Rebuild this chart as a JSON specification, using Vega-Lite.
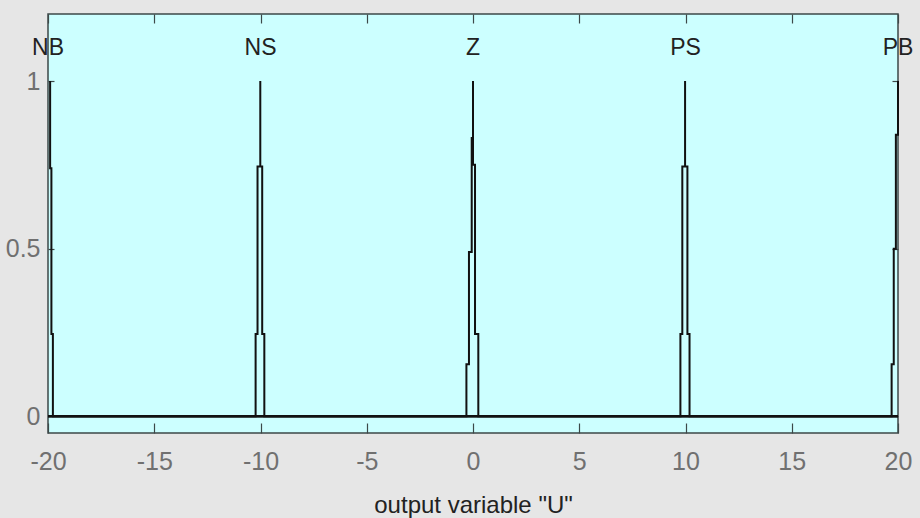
{
  "$schema": "https://vega.github.io/schema/vega-lite/v6.json",
  "width": 850,
  "height": 419,
  "autosize": "none",
  "padding": {"left": 48, "top": 14, "right": 22, "bottom": 85},
  "background": "#e6e6e6",
  "config": {
    "view": {"fill": "#ccffff", "stroke": "#3c4848", "strokeWidth": 1.5},
    "font": "Liberation Sans",
    "axis": {"grid": false, "domain": false, "tickColor": "#3c4848", "tickWidth": 1.2, "labelFont": "Liberation Sans", "labelColor": "#707070", "labelFontSize": 25, "labelFlush": false, "labelOverlap": false, "titleFont": "Liberation Sans", "titleFontWeight": "normal", "titleColor": "#222222", "titleFontSize": 24}
  },
  "datasets": {
    "mfs": [
      {"mf": "NB", "o": 1, "x": -19.9, "y": 1},
      {"mf": "NB", "o": 2, "x": -19.9, "y": 0.74},
      {"mf": "NB", "o": 3, "x": -19.84, "y": 0.74},
      {"mf": "NB", "o": 4, "x": -19.84, "y": 0.245},
      {"mf": "NB", "o": 5, "x": -19.77, "y": 0.245},
      {"mf": "NB", "o": 6, "x": -19.77, "y": 0},
      {"mf": "NB", "o": 7, "x": 20, "y": 0},
      {"mf": "NS", "o": 1, "x": -20, "y": 0},
      {"mf": "NS", "o": 2, "x": -10.23, "y": 0},
      {"mf": "NS", "o": 3, "x": -10.23, "y": 0.245},
      {"mf": "NS", "o": 4, "x": -10.14, "y": 0.245},
      {"mf": "NS", "o": 5, "x": -10.14, "y": 0.745},
      {"mf": "NS", "o": 6, "x": -10.01, "y": 0.745},
      {"mf": "NS", "o": 7, "x": -10.01, "y": 1},
      {"mf": "NS", "o": 8, "x": -10.01, "y": 0.745},
      {"mf": "NS", "o": 9, "x": -9.92, "y": 0.745},
      {"mf": "NS", "o": 10, "x": -9.92, "y": 0.245},
      {"mf": "NS", "o": 11, "x": -9.82, "y": 0.245},
      {"mf": "NS", "o": 12, "x": -9.82, "y": 0},
      {"mf": "NS", "o": 13, "x": 20, "y": 0},
      {"mf": "Z", "o": 1, "x": -20, "y": 0},
      {"mf": "Z", "o": 2, "x": -0.31, "y": 0},
      {"mf": "Z", "o": 3, "x": -0.31, "y": 0.155},
      {"mf": "Z", "o": 4, "x": -0.19, "y": 0.155},
      {"mf": "Z", "o": 5, "x": -0.19, "y": 0.49},
      {"mf": "Z", "o": 6, "x": -0.06, "y": 0.49},
      {"mf": "Z", "o": 7, "x": -0.06, "y": 0.83},
      {"mf": "Z", "o": 8, "x": 0, "y": 0.83},
      {"mf": "Z", "o": 9, "x": 0, "y": 1},
      {"mf": "Z", "o": 10, "x": 0, "y": 0.75},
      {"mf": "Z", "o": 11, "x": 0.095, "y": 0.75},
      {"mf": "Z", "o": 12, "x": 0.095, "y": 0.245},
      {"mf": "Z", "o": 13, "x": 0.25, "y": 0.245},
      {"mf": "Z", "o": 14, "x": 0.25, "y": 0},
      {"mf": "Z", "o": 15, "x": 20, "y": 0},
      {"mf": "PS", "o": 1, "x": -20, "y": 0},
      {"mf": "PS", "o": 2, "x": 9.76, "y": 0},
      {"mf": "PS", "o": 3, "x": 9.76, "y": 0.245},
      {"mf": "PS", "o": 4, "x": 9.85, "y": 0.245},
      {"mf": "PS", "o": 5, "x": 9.85, "y": 0.745},
      {"mf": "PS", "o": 6, "x": 9.98, "y": 0.745},
      {"mf": "PS", "o": 7, "x": 9.98, "y": 1},
      {"mf": "PS", "o": 8, "x": 9.98, "y": 0.745},
      {"mf": "PS", "o": 9, "x": 10.09, "y": 0.745},
      {"mf": "PS", "o": 10, "x": 10.09, "y": 0.245},
      {"mf": "PS", "o": 11, "x": 10.19, "y": 0.245},
      {"mf": "PS", "o": 12, "x": 10.19, "y": 0},
      {"mf": "PS", "o": 13, "x": 20, "y": 0},
      {"mf": "PB", "o": 1, "x": -20, "y": 0},
      {"mf": "PB", "o": 2, "x": 19.7, "y": 0},
      {"mf": "PB", "o": 3, "x": 19.7, "y": 0.155},
      {"mf": "PB", "o": 4, "x": 19.8, "y": 0.155},
      {"mf": "PB", "o": 5, "x": 19.8, "y": 0.5},
      {"mf": "PB", "o": 6, "x": 19.9, "y": 0.5},
      {"mf": "PB", "o": 7, "x": 19.9, "y": 0.84},
      {"mf": "PB", "o": 8, "x": 20, "y": 0.84},
      {"mf": "PB", "o": 9, "x": 20, "y": 1}
    ],
    "labels": [
      {"mf": "NB", "x": -20, "y": 1.1},
      {"mf": "NS", "x": -10, "y": 1.1},
      {"mf": "Z", "x": 0, "y": 1.1},
      {"mf": "PS", "x": 10, "y": 1.1},
      {"mf": "PB", "x": 20, "y": 1.1}
    ]
  },
  "layer": [
    {
      "data": {"name": "mfs"},
      "mark": {"type": "line", "color": "#111111", "strokeWidth": 2, "clip": false},
      "encoding": {
        "x": {"field": "x", "type": "quantitative", "scale": {"domain": [-20, 20], "nice": false, "zero": false},
          "axis": {"orient": "bottom", "values": [-20, -15, -10, -5, 0, 5, 10, 15, 20], "tickSize": -10, "labelPadding": 26, "labelExpr": "'' + datum.value", "title": "output variable \"U\"", "titlePadding": 19}},
        "y": {"field": "y", "type": "quantitative", "scale": {"domain": [-0.05, 1.2], "nice": false, "zero": false},
          "axis": {"orient": "left", "values": [0, 0.5, 1], "tickSize": -6, "labelPadding": 14, "title": null, "labelExpr": "'' + datum.value"}},
        "detail": {"field": "mf"},
        "order": {"field": "o", "type": "quantitative"}
      }
    },
    {
      "data": {"name": "labels"},
      "mark": {"type": "text", "color": "#222222", "fontSize": 23, "baseline": "middle", "align": "center", "font": "Liberation Sans"},
      "encoding": {
        "x": {"field": "x", "type": "quantitative",
          "axis": {"orient": "top", "values": [-20, -15, -10, -5, 0, 5, 10, 15, 20], "tickSize": -9, "labels": false, "title": null}},
        "y": {"field": "y", "type": "quantitative",
          "axis": {"orient": "right", "values": [0, 0.5, 1], "tickSize": -6, "labels": false, "title": null}},
        "text": {"field": "mf"}
      }
    }
  ],
  "resolve": {"axis": {"x": "independent", "y": "independent"}}
}
